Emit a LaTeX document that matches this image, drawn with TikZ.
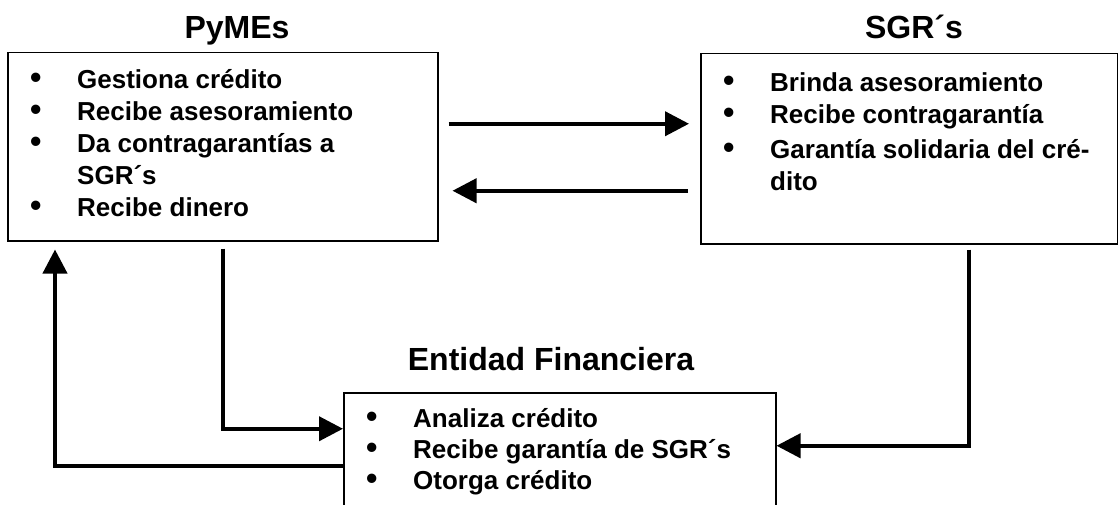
\documentclass[tikz,border=0pt]{standalone}
\usepackage{fontspec}
\setmainfont{Liberation Sans}
\usetikzlibrary{arrows.meta,positioning}
\newcommand{\bul}{\makebox[47pt][l]{\scalebox{1.25}{\textbullet}}}
\newcommand{\sigue}{\hspace*{47pt}}
\tikzset{
  caja/.style={draw, line width=1.5pt, anchor=north west, inner sep=0pt},
  lista/.style={font=\fontsize{26}{32}\selectfont\bfseries, anchor=base west, inner sep=0pt},
  titulo/.style={font=\fontsize{32}{32}\selectfont\bfseries, anchor=base, inner sep=0pt},
  flecha/.style={line width=4pt, -{Triangle[length=24pt,width=24pt]}}
}
\begin{document}
\begin{tikzpicture}[x=1pt, y=1pt]
    \useasboundingbox (0,0) rectangle (1118,504);
    \node[caja, minimum width=430, minimum height=188] (pymes) at (7,452) {};
    \node[caja, minimum width=417, minimum height=190] (sgr) at (700,451) {};
    \node[caja, minimum width=432, minimum height=114] (ent) at (343,112) {};
    \node[titulo] (tpymes) at (237,465) {PyMEs};
    \node[titulo] (tsgr) at (914,465) {SGR´s};
    \node[titulo] (tent) at (551,134) {Entidad Financiera};
    \node[lista] (lpymes) at ([xshift=23pt, yshift=-37pt]pymes.north west) {\begin{tabular}[t]{@{}l@{}}
        \bul Gestiona crédito\\
        \bul Recibe asesoramiento\\
        \bul Da contragarantías a\\
        \sigue SGR´s\\
        \bul Recibe dinero
    \end{tabular}};
    \node[lista] (lsgr) at ([xshift=23pt, yshift=-39pt]sgr.north west) {\begin{tabular}[t]{@{}l@{}}
        \bul Brinda asesoramiento\\
        \bul Recibe contragarantía\\[3pt]
        \bul Garantía solidaria del cré-\\
        \sigue dito
    \end{tabular}};
    \node[lista] (lent) at ([xshift=23pt, yshift=-35pt]ent.north west) {\begin{tabular}[t]{@{}l@{}}
        \bul Analiza crédito\\[-1pt]
        \bul Recibe garantía de SGR´s\\[-1pt]
        \bul Otorga crédito
    \end{tabular}};
    \coordinate (a1) at ([yshift=23pt]pymes.east);
    \coordinate (a2) at ([yshift=-44pt]pymes.east);
    \draw[flecha, shorten <=10pt, shorten >=11pt] (a1) -- (a1 -| sgr.west);
    \draw[flecha, shorten <=12pt, shorten >=14pt] (a2 -| sgr.west) -- (a2);
    \coordinate (b1) at ([yshift=21pt]ent.west);
    \coordinate (b2) at ([yshift=-16pt]ent.west);
    \coordinate (b3) at ([xshift=48pt]pymes.south west);
    \coordinate (b4) at ([xshift=60pt]sgr.south);
    \coordinate (b5) at ([yshift=4pt]ent.east);
    \draw[flecha, shorten <=7pt] (pymes.south) |- (b1);
    \draw[flecha, shorten >=8pt] (b2) -| (b3);
    \draw[flecha, shorten <=5pt] (b4) |- (b5);
\end{tikzpicture}
\end{document}
